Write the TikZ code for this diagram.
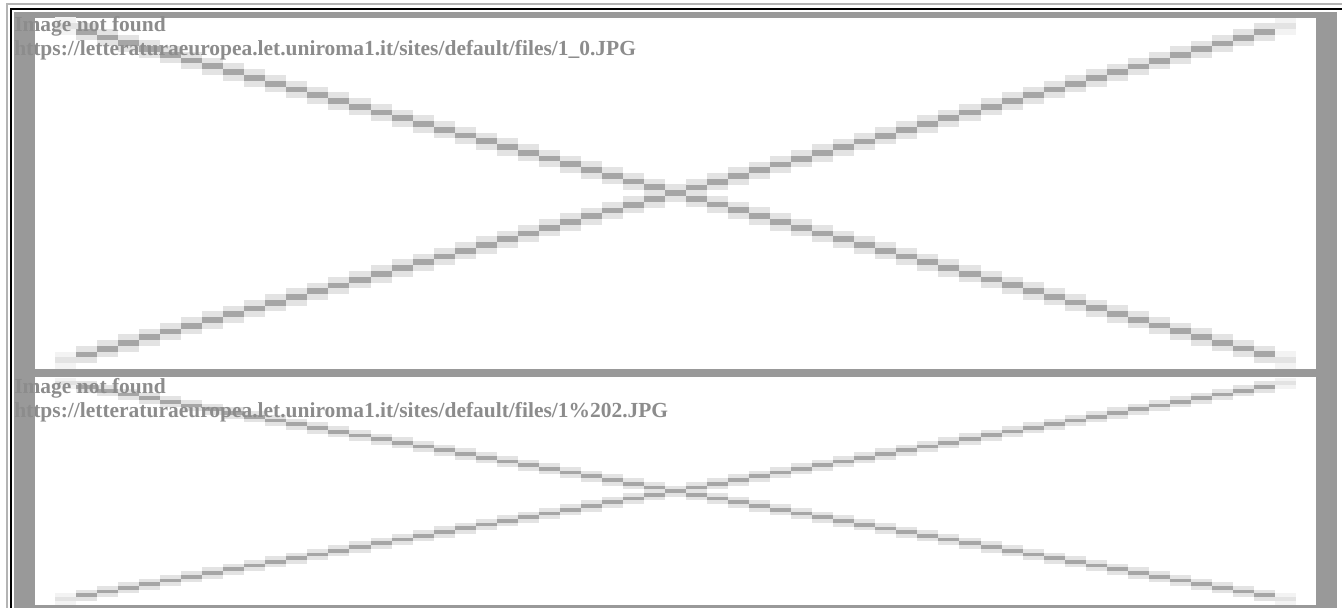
\documentclass[tikz,border=0pt]{standalone}
\usepackage{fontspec}
\setmainfont{Liberation Serif}
\definecolor{tblgray}{HTML}{999999}
\definecolor{pixdark}{HTML}{A6A6A6}
\definecolor{pixlight}{HTML}{E3E3E3}
\definecolor{pixfade}{HTML}{F3F3F3}
\definecolor{txtgray}{HTML}{8C8C8C}
\definecolor{framelight}{HTML}{B4B4B4}
\newcommand\pxlight[3]{%
  \foreach \i in {1,...,57}{%
    \pgfmathsetmacro\xa{55+21.034*\i}%
    \pgfmathsetmacro\xb{\xa+21.034}%
    \pgfmathsetmacro\yc{#1+(#2)*\i}%
    \fill[pixlight] (\xa,\yc-1.5*#3) rectangle (\xb,\yc+1.5*#3);
  }%
  \foreach \i in {0,58}{%
    \pgfmathsetmacro\xa{55+21.034*\i}%
    \pgfmathsetmacro\xb{\xa+21.034}%
    \pgfmathsetmacro\yc{#1+(#2)*\i}%
    \fill[pixfade] (\xa,\yc-1.5*#3) rectangle (\xb,\yc+1.5*#3);
    \fill[pixlight] (\xa,\yc-0.5*#3) rectangle (\xb,\yc+0.5*#3);
  }%
}
\newcommand\pxdark[3]{%
  \foreach \i in {1,...,57}{%
    \pgfmathsetmacro\xa{55+21.034*\i}%
    \pgfmathsetmacro\xb{\xa+21.034}%
    \pgfmathsetmacro\yc{#1+(#2)*\i}%
    \fill[pixdark] (\xa,\yc-0.5*#3) rectangle (\xb,\yc+0.5*#3);
  }%
}
\begin{document}
\begin{tikzpicture}[x=0.75pt,y=-0.75pt,
  missing/.style={font=\bfseries\fontsize{16.1}{19}\selectfont, text=txtgray, inner sep=0pt, anchor=base west}]
\useasboundingbox (0,0) rectangle (1342,608);
\fill[white] (0,0) rectangle (1342,608);
% outer frame
\fill[framelight] (6,3) rectangle (1342,5);
\fill[framelight] (6,3) rectangle (8,608);
\fill[black] (10,8) rectangle (1342,10);
\fill[black] (10,8) rectangle (12,608);
% table and cells
\fill[tblgray] (14,12) rectangle (1337,608);
\fill[white] (35,18) rectangle (1316,369);
\fill[white] (35,377) rectangle (1316,605);
% broken-image crosses
\pxlight{360.26}{-5.76}{5.76}
\pxlight{26.04}{5.76}{5.76}
\pxlight{599.02}{-3.72}{3.72}
\pxlight{383.28}{3.72}{3.72}
\pxdark{360.26}{-5.76}{5.76}
\pxdark{26.04}{5.76}{5.76}
\pxdark{599.02}{-3.72}{3.72}
\pxdark{383.28}{3.72}{3.72}
% texts
\node[missing] (nf1) at (14,31) {Image not found};
\node[missing] (url1) at (14,55) {https://letteraturaeuropea.let.uniroma1.it/sites/default/files/1\_0.JPG};
\node[missing] (nf2) at (14,393) {Image not found};
\node[missing] (url2) at (14,417) {https://letteraturaeuropea.let.uniroma1.it/sites/default/files/1\%202.JPG};
\end{tikzpicture}
\end{document}
